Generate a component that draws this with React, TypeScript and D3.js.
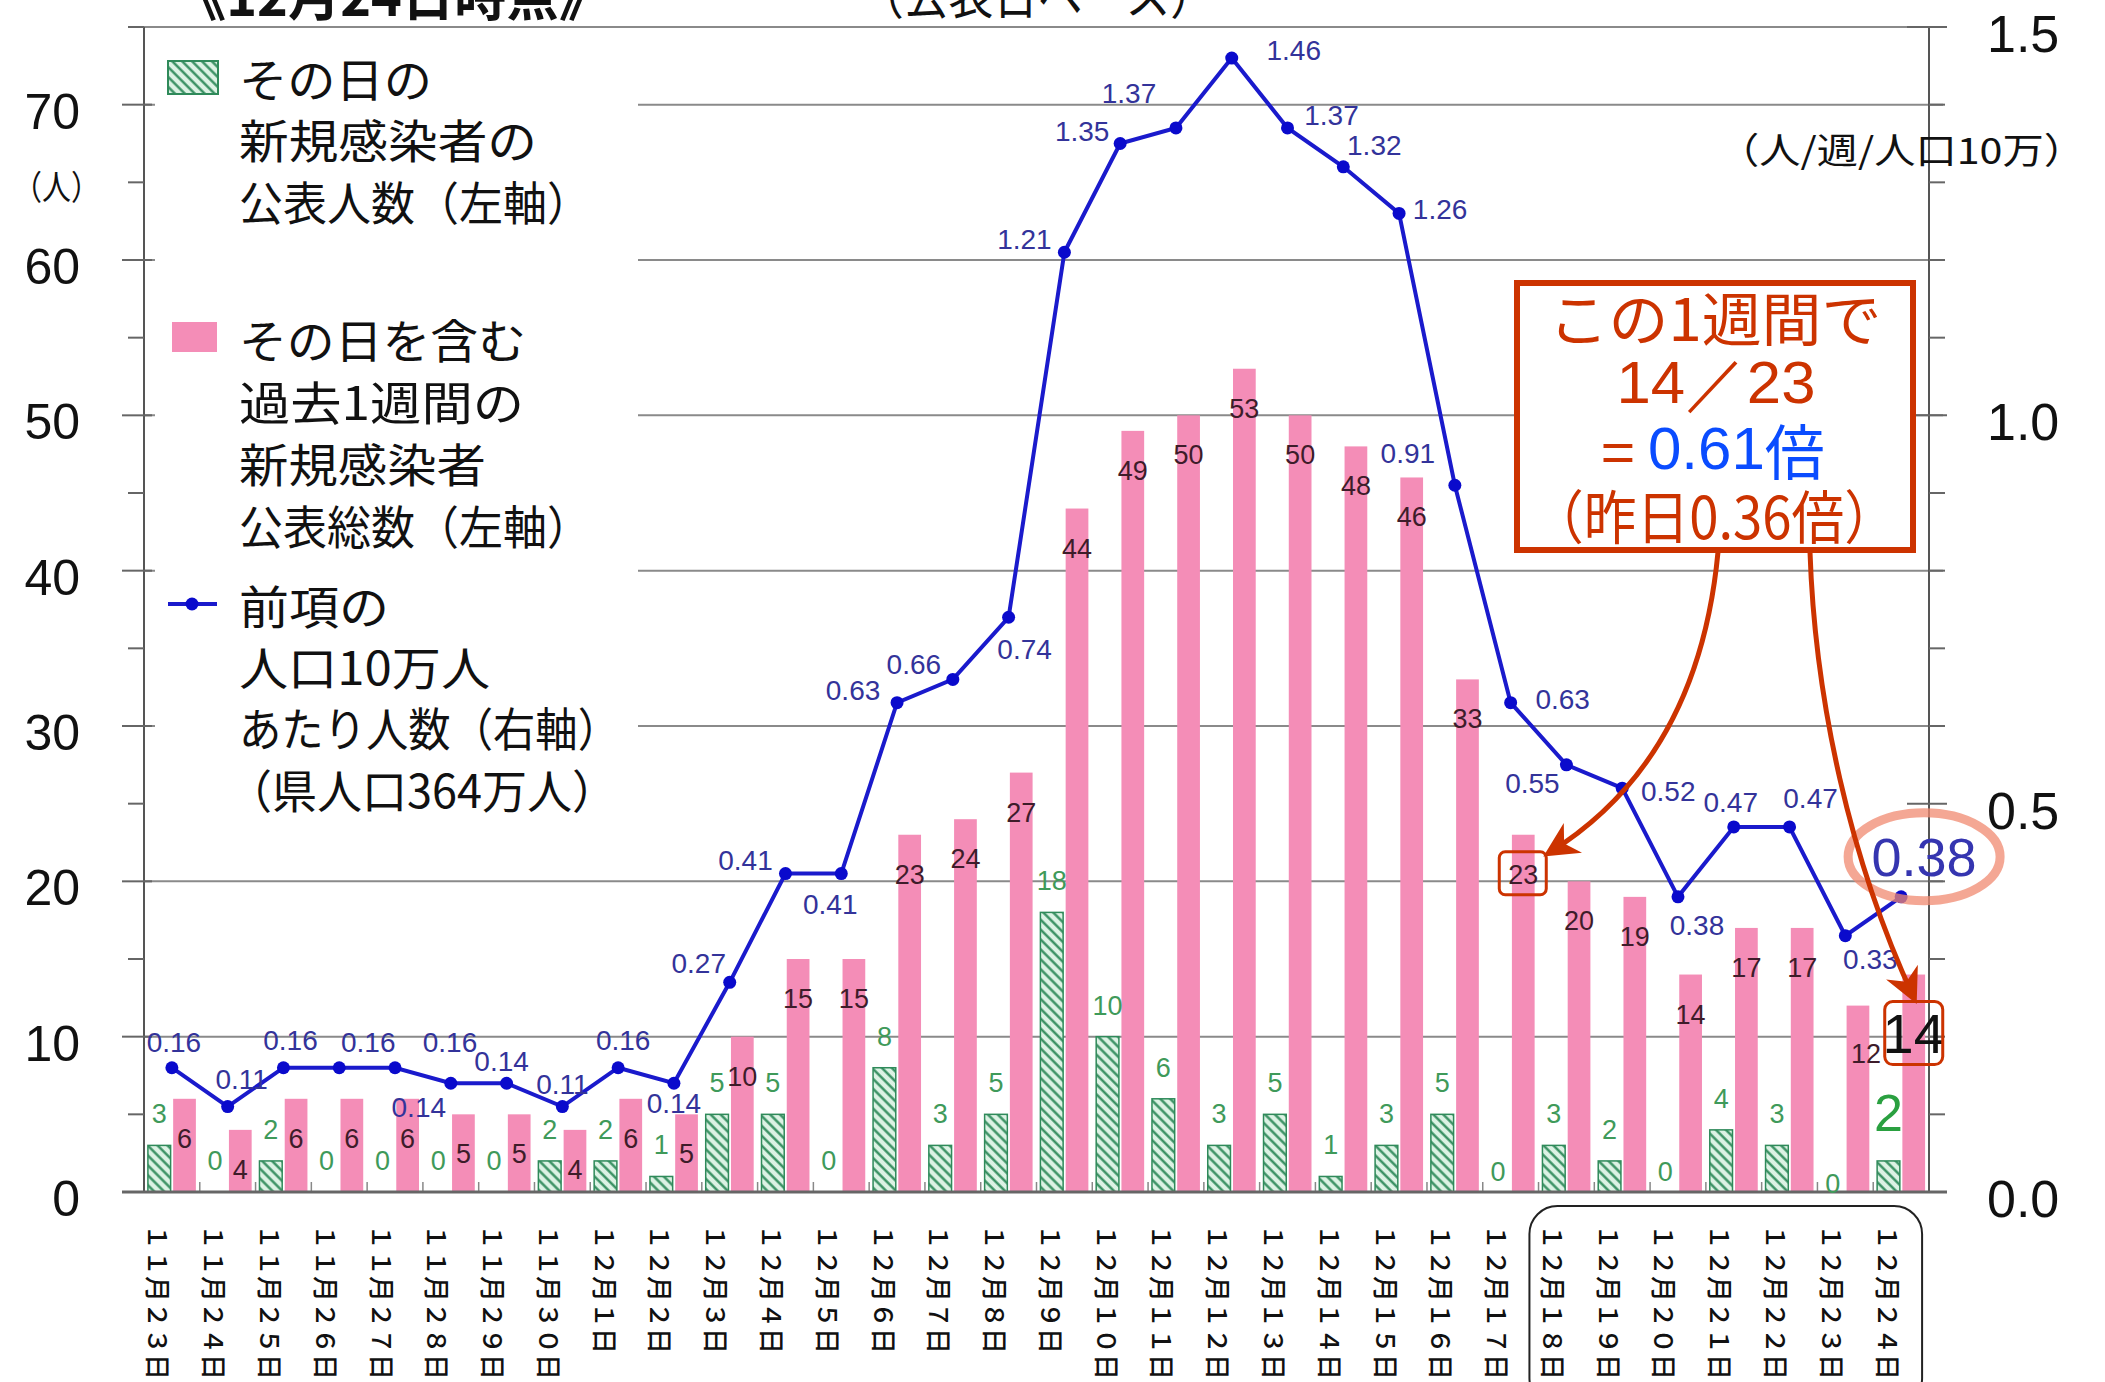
import React from "react";
import * as d3 from "d3";

// ---- data ----
const dates = [
  "11月23日", "11月24日", "11月25日", "11月26日", "11月27日", "11月28日", "11月29日", "11月30日",
  "12月1日", "12月2日", "12月3日", "12月4日", "12月5日", "12月6日", "12月7日", "12月8日",
  "12月9日", "12月10日", "12月11日", "12月12日", "12月13日", "12月14日", "12月15日", "12月16日",
  "12月17日", "12月18日", "12月19日", "12月20日", "12月21日", "12月22日", "12月23日", "12月24日",
];
const dailyNew = [3, 0, 2, 0, 0, 0, 0, 2, 2, 1, 5, 5, 0, 8, 3, 5, 18, 10, 6, 3, 5, 1, 3, 5, 0, 3, 2, 0, 4, 3, 0, 2];
const weeklyTotal = [6, 4, 6, 6, 6, 5, 5, 4, 6, 5, 10, 15, 15, 23, 24, 27, 44, 49, 50, 53, 50, 48, 46, 33, 23, 20, 19, 14, 17, 17, 12, 14];
const per100k = [
  0.16, 0.11, 0.16, 0.16, 0.16, 0.14, 0.14, 0.11, 0.16, 0.14, 0.27, 0.41, 0.41, 0.63, 0.66, 0.74,
  1.21, 1.35, 1.37, 1.46, 1.37, 1.32, 1.26, 0.91, 0.63, 0.55, 0.52, 0.38, 0.47, 0.47, 0.33, 0.38,
];
const leftTicks = [0, 10, 20, 30, 40, 50, 60, 70];
const rightTicks = [0, 0.5, 1.0, 1.5];

// label nudges for the line values (px, relative to the point)
const lineLabelOffset: [number, number][] = [
  [2, -25], [14, -27], [7, -27], [29, -25], [55, -25], [-32, 24], [-5, -22], [0, -22],
  [5, -27], [0, 20], [-31, -19], [-40, -13], [-11, 31], [-44, -12], [-39, -15], [16, 32],
  [-40, -13], [-38, -12], [-47, -34], [62, -8], [44, -12], [31, -21], [41, -4], [-47, -32],
  [52, -3], [-34, 19], [46, 3], [19, 29], [-3, -24], [21, -28], [25, 24], [23, -40],
];

const W = 2105;
const H = 1382;
const X0 = 144;
const X1 = 1929;
const Y0 = 1192;
const YT = 27;

const JP = "'Noto Sans CJK JP', 'Noto Sans', sans-serif";
const NUM = "'Liberation Sans', Arial, sans-serif";
const RED = "#cc3300";

const fullWidth = (s: string) =>
  s.replace(/[0-9]/g, (c) => String.fromCharCode(c.charCodeAt(0) + 0xfee0));

export default function App() {
  const x = d3.scaleBand<string>().domain(dates).range([X0, X1]).paddingInner(0.14).paddingOuter(0.07);
  const sub = d3.scaleBand<string>().domain(["new", "week"]).range([0, x.bandwidth()]).paddingInner(0.1);
  const yL = d3.scaleLinear().domain([0, 75]).range([Y0, YT]);
  const yR = d3.scaleLinear().domain([0, 1.5]).range([Y0, YT]);

  const cx = (i: number) => (x(dates[i]) as number) + x.bandwidth() / 2;
  const gx = (i: number) => (x(dates[i]) as number) + (sub("new") as number) + sub.bandwidth() / 2;
  const px = (i: number) => (x(dates[i]) as number) + (sub("week") as number) + sub.bandwidth() / 2;

  const line = d3
    .line<number>()
    .x((_d, i) => cx(i))
    .y((d) => yR(d));

  const last = dates.length - 1;
  const box23 = { x: px(24), y: yL(weeklyTotal[24]) + 38 };
  const box14 = { x: px(last), y: yL(weeklyTotal[last]) + 59 };
  const big038 = { x: cx(last) + lineLabelOffset[last][0], y: yR(per100k[last]) + lineLabelOffset[last][1] };

  const minorL = d3.range(0, 76, 5).filter((v) => v % 10 !== 0);
  const minorR = d3.range(1, 15).map((v) => v / 10).filter((v) => v !== 0.5 && v !== 1.0);

  const boundaries = dates.map((d) => (x(d) as number) - (x.step() - x.bandwidth()) / 2).slice(1);

  const legendX = 239;
  const legendLines: { text: string; y: number; len: number }[] = [
    { text: "その日の", y: 77, len: 193 },
    { text: "新規感染者の", y: 138, len: 298 },
    { text: "公表人数（左軸）", y: 200, len: 352 },
    { text: "その日を含む", y: 338, len: 287 },
    { text: "過去1週間の", y: 400, len: 285 },
    { text: "新規感染者", y: 462, len: 247 },
    { text: "公表総数（左軸）", y: 524, len: 352 },
    { text: "前項の", y: 604, len: 150 },
    { text: "人口10万人", y: 665, len: 251 },
    { text: "あたり人数（右軸）", y: 726, len: 381 },
    { text: "（県人口364万人）", y: 788, len: 390 },
  ];

  return (
    <svg
      width={W}
      height={H}
      viewBox={`0 0 ${W} ${H}`}
      style={{ position: "absolute", left: 0, top: 0, background: "#fff" }}
    >
      <defs>
        <pattern id="hatch" patternUnits="userSpaceOnUse" width="7" height="7" patternTransform="rotate(-45)">
          <rect width="7" height="7" fill="#dcf2e4" />
          <line x1="1.5" y1="0" x2="1.5" y2="7" stroke="#2f8a5a" strokeWidth="2.3" />
        </pattern>
        <marker id="arrowHead" viewBox="0 0 10 10" refX="8" refY="5" markerWidth="7" markerHeight="7" orient="auto-start-reverse">
          <path d="M0,0 L10,5 L0,10 L3,5 z" fill={RED} />
        </marker>
      </defs>

      <rect x={0} y={0} width={W} height={H} fill="#fff" />

      {/* titles, clipped by the top edge */}
      <text x={174} y={16} fontFamily={JP} fontSize={54} fontWeight={700} textLength={437} lengthAdjust="spacingAndGlyphs" fill="#111">
        《12月24日時点》
      </text>
      <text x={859} y={14} fontFamily={JP} fontSize={50} textLength={356} lengthAdjust="spacingAndGlyphs" fill="#111">
        （公表日ベース）
      </text>

      {/* gridlines */}
      {leftTicks.filter((v) => v > 0).map((v) => (
        <line key={`g${v}`} x1={X0} x2={X1 + 14} y1={yL(v)} y2={yL(v)} stroke="#8a8a8a" strokeWidth={2} />
      ))}
      <line x1={X0 - 15} x2={X1 + 18} y1={yL(75)} y2={yL(75)} stroke="#8a8a8a" strokeWidth={2} />

      {/* legend background */}
      <rect x={155} y={32} width={483} height={794} fill="#fff" />

      {/* bars */}
      {dailyNew.map((v, i) => (
        <rect
          key={`n${i}`}
          x={(x(dates[i]) as number) + (sub("new") as number)}
          y={yL(v)}
          width={sub.bandwidth()}
          height={Y0 - yL(v)}
          fill="url(#hatch)"
          stroke="#2f8a5a"
          strokeWidth={v > 0 ? 1.5 : 0}
        />
      ))}
      {weeklyTotal.map((v, i) => (
        <rect
          key={`w${i}`}
          x={(x(dates[i]) as number) + (sub("week") as number)}
          y={yL(v)}
          width={sub.bandwidth()}
          height={Y0 - yL(v)}
          fill="#f48db7"
        />
      ))}

      {/* category ticks */}
      {boundaries.map((b, i) => (
        <line key={`t${i}`} x1={b} x2={b} y1={Y0} y2={Y0 - 10} stroke="#888" strokeWidth={1.5} />
      ))}

      {/* axes */}
      <line x1={X0} x2={X0} y1={YT} y2={Y0} stroke="#555" strokeWidth={2} />
      <line x1={X1} x2={X1} y1={YT} y2={Y0} stroke="#555" strokeWidth={2} />
      {leftTicks.map((v) => (
        <line key={`lt${v}`} x1={X0 - 22} x2={X0 + 8} y1={yL(v)} y2={yL(v)} stroke="#666" strokeWidth={2} />
      ))}
      {minorL.map((v) => (
        <line key={`lm${v}`} x1={X0 - 16} x2={X0} y1={yL(v)} y2={yL(v)} stroke="#666" strokeWidth={2} />
      ))}
      {rightTicks.map((v) => (
        <line key={`rt${v}`} x1={X1 - 22} x2={X1 + 18} y1={yR(v)} y2={yR(v)} stroke="#666" strokeWidth={2} />
      ))}
      {minorR.map((v) => (
        <line key={`rm${v}`} x1={X1} x2={X1 + 16} y1={yR(v)} y2={yR(v)} stroke="#666" strokeWidth={2} />
      ))}
      <line x1={X0 - 22} x2={X1 + 18} y1={Y0} y2={Y0} stroke="#666" strokeWidth={3} />

      {leftTicks.map((v) => (
        <text key={`ll${v}`} x={80} y={yL(v) + 7} textAnchor="end" dominantBaseline="central" fontFamily={NUM} fontSize={50} fill="#111">
          {v}
        </text>
      ))}
      {rightTicks.map((v) => (
        <text key={`rl${v}`} x={1987} y={yR(v) + 7} dominantBaseline="central" fontFamily={NUM} fontSize={52} fill="#111">
          {v.toFixed(1)}
        </text>
      ))}
      <text x={13} y={185} dominantBaseline="central" fontFamily={JP} fontSize={34} textLength={87} lengthAdjust="spacingAndGlyphs" fill="#111">
        （人）
      </text>
      <text x={1718} y={148} dominantBaseline="central" fontFamily={JP} fontSize={36} textLength={367} lengthAdjust="spacingAndGlyphs" fill="#111">
        （人/週/人口10万）
      </text>

      {/* date labels */}
      {dates.map((d, i) => (
        <text
          key={`d${i}`}
          transform={`translate(${cx(i) - 12},1224) rotate(90)`}
          dominantBaseline="central"
          fontFamily={JP}
          fontSize={26}
          fontWeight={500}
          fill="#111"
        >
          {fullWidth(d)}
        </text>
      ))}
      <rect x={(x(dates[25]) as number) - 13} y={1206} width={(x(dates[last]) as number) + x.bandwidth() - 3 - ((x(dates[25]) as number) - 13)} height={200} rx={28} fill="none" stroke="#222" strokeWidth={2} />

      {/* line */}
      <path d={line(per100k) || ""} fill="none" stroke="#1a1acc" strokeWidth={4} />
      {per100k.map((v, i) => (
        <circle key={`p${i}`} cx={cx(i)} cy={yR(v)} r={6.5} fill="#0a0acc" />
      ))}

      {/* bar value labels */}
      {weeklyTotal.map((v, i) =>
        i === last ? null : (
          <text
            key={`wl${i}`}
            x={px(i) + (i === 30 ? 8 : 0)}
            y={yL(v) + (i === 30 ? 48 : 40)}
            textAnchor="middle"
            dominantBaseline="central"
            fontFamily={NUM}
            fontSize={27}
            fill="#3e1c2a"
          >
            {v}
          </text>
        ),
      )}
      {dailyNew.map((v, i) => {
        if (i === last) return null;
        const dy = i === 24 || i === 27 ? -20 : i === 30 ? -8 : -31;
        return (
          <text
            key={`nl${i}`}
            x={gx(i)}
            y={yL(v) + dy}
            textAnchor="middle"
            dominantBaseline="central"
            fontFamily={NUM}
            fontSize={27}
            fill="#3f9a5a"
          >
            {v}
          </text>
        );
      })}
      <text x={gx(last)} y={yL(dailyNew[last]) - 48} textAnchor="middle" dominantBaseline="central" fontFamily={NUM} fontSize={52} fill="#2aa040">
        {dailyNew[last]}
      </text>

      {/* line value labels */}
      {per100k.map((v, i) =>
        i === last ? null : (
          <text
            key={`vl${i}`}
            x={cx(i) + lineLabelOffset[i][0]}
            y={yR(v) + lineLabelOffset[i][1]}
            textAnchor="middle"
            dominantBaseline="central"
            fontFamily={NUM}
            fontSize={28}
            fill="#33339a"
          >
            {v.toFixed(2)}
          </text>
        ),
      )}

      {/* highlighted latest values */}
      <ellipse cx={big038.x} cy={big038.y} rx={76} ry={44} fill="none" stroke="#f08a70" strokeWidth={9} strokeOpacity={0.75} />
      <text x={big038.x} y={big038.y} textAnchor="middle" dominantBaseline="central" fontFamily={NUM} fontSize={54} fill="#3535b0">
        {per100k[last].toFixed(2)}
      </text>
      <text x={box14.x} y={box14.y} textAnchor="middle" dominantBaseline="central" fontFamily={NUM} fontSize={56} fill="#111">
        {weeklyTotal[last]}
      </text>
      <rect x={box14.x - 29} y={box14.y - 32} width={58} height={63} rx={8} fill="none" stroke={RED} strokeWidth={3} />
      <rect x={box23.x - 24} y={box23.y - 21} width={47} height={43} rx={6} fill="none" stroke={RED} strokeWidth={3} />

      {/* legend */}
      <rect x={168} y={61} width={50} height={33} fill="url(#hatch)" stroke="#2f8a5a" strokeWidth={2} />
      <rect x={172} y={322} width={45} height={30} fill="#f48db7" />
      <line x1={168} x2={217} y1={604} y2={604} stroke="#1a1acc" strokeWidth={4} />
      <circle cx={192} cy={604} r={6.5} fill="#0a0acc" />
      {legendLines.map((l) => (
        <text
          key={l.text}
          x={l.text.startsWith("（") ? legendX - 12 : legendX}
          y={l.y}
          dominantBaseline="central"
          fontFamily={JP}
          fontSize={46}
          textLength={l.len}
          lengthAdjust="spacingAndGlyphs"
          fill="#111"
        >
          {l.text}
        </text>
      ))}

      {/* callout */}
      <path d={`M1718,552 C1705,690 1650,790 ${box23.x + 26},${box23.y - 20}`} fill="none" stroke={RED} strokeWidth={5} markerEnd="url(#arrowHead)" />
      <path d={`M1810,552 C1815,700 1850,860 ${box14.x},${box14.y - 36}`} fill="none" stroke={RED} strokeWidth={5} markerEnd="url(#arrowHead)" />
      <rect x={1517} y={283} width={396} height={267} fill="#fff" stroke={RED} strokeWidth={6} />
      <text x={1715} y={316} textAnchor="middle" dominantBaseline="central" fontFamily={JP} fontSize={58} textLength={333} lengthAdjust="spacingAndGlyphs" fill={RED}>
        この1週間で
      </text>
      <text x={1716} y={382} textAnchor="middle" dominantBaseline="central" fontFamily={NUM} fontSize={60} textLength={199} lengthAdjust="spacingAndGlyphs" fill={RED}>
        14／23
      </text>
      <text x={1713} y={448} textAnchor="middle" dominantBaseline="central" fontFamily={NUM} fontSize={60}>
        <tspan fill={RED} fontFamily={JP}>= </tspan>
        <tspan fill="#0a4cff">0.61</tspan>
        <tspan fill="#0a4cff" fontFamily={JP}>倍</tspan>
      </text>
      <text x={1714} y={514} textAnchor="middle" dominantBaseline="central" fontFamily={JP} fontSize={58} textLength={366} lengthAdjust="spacingAndGlyphs" fill={RED}>
        （昨日0.36倍）
      </text>
    </svg>
  );
}
